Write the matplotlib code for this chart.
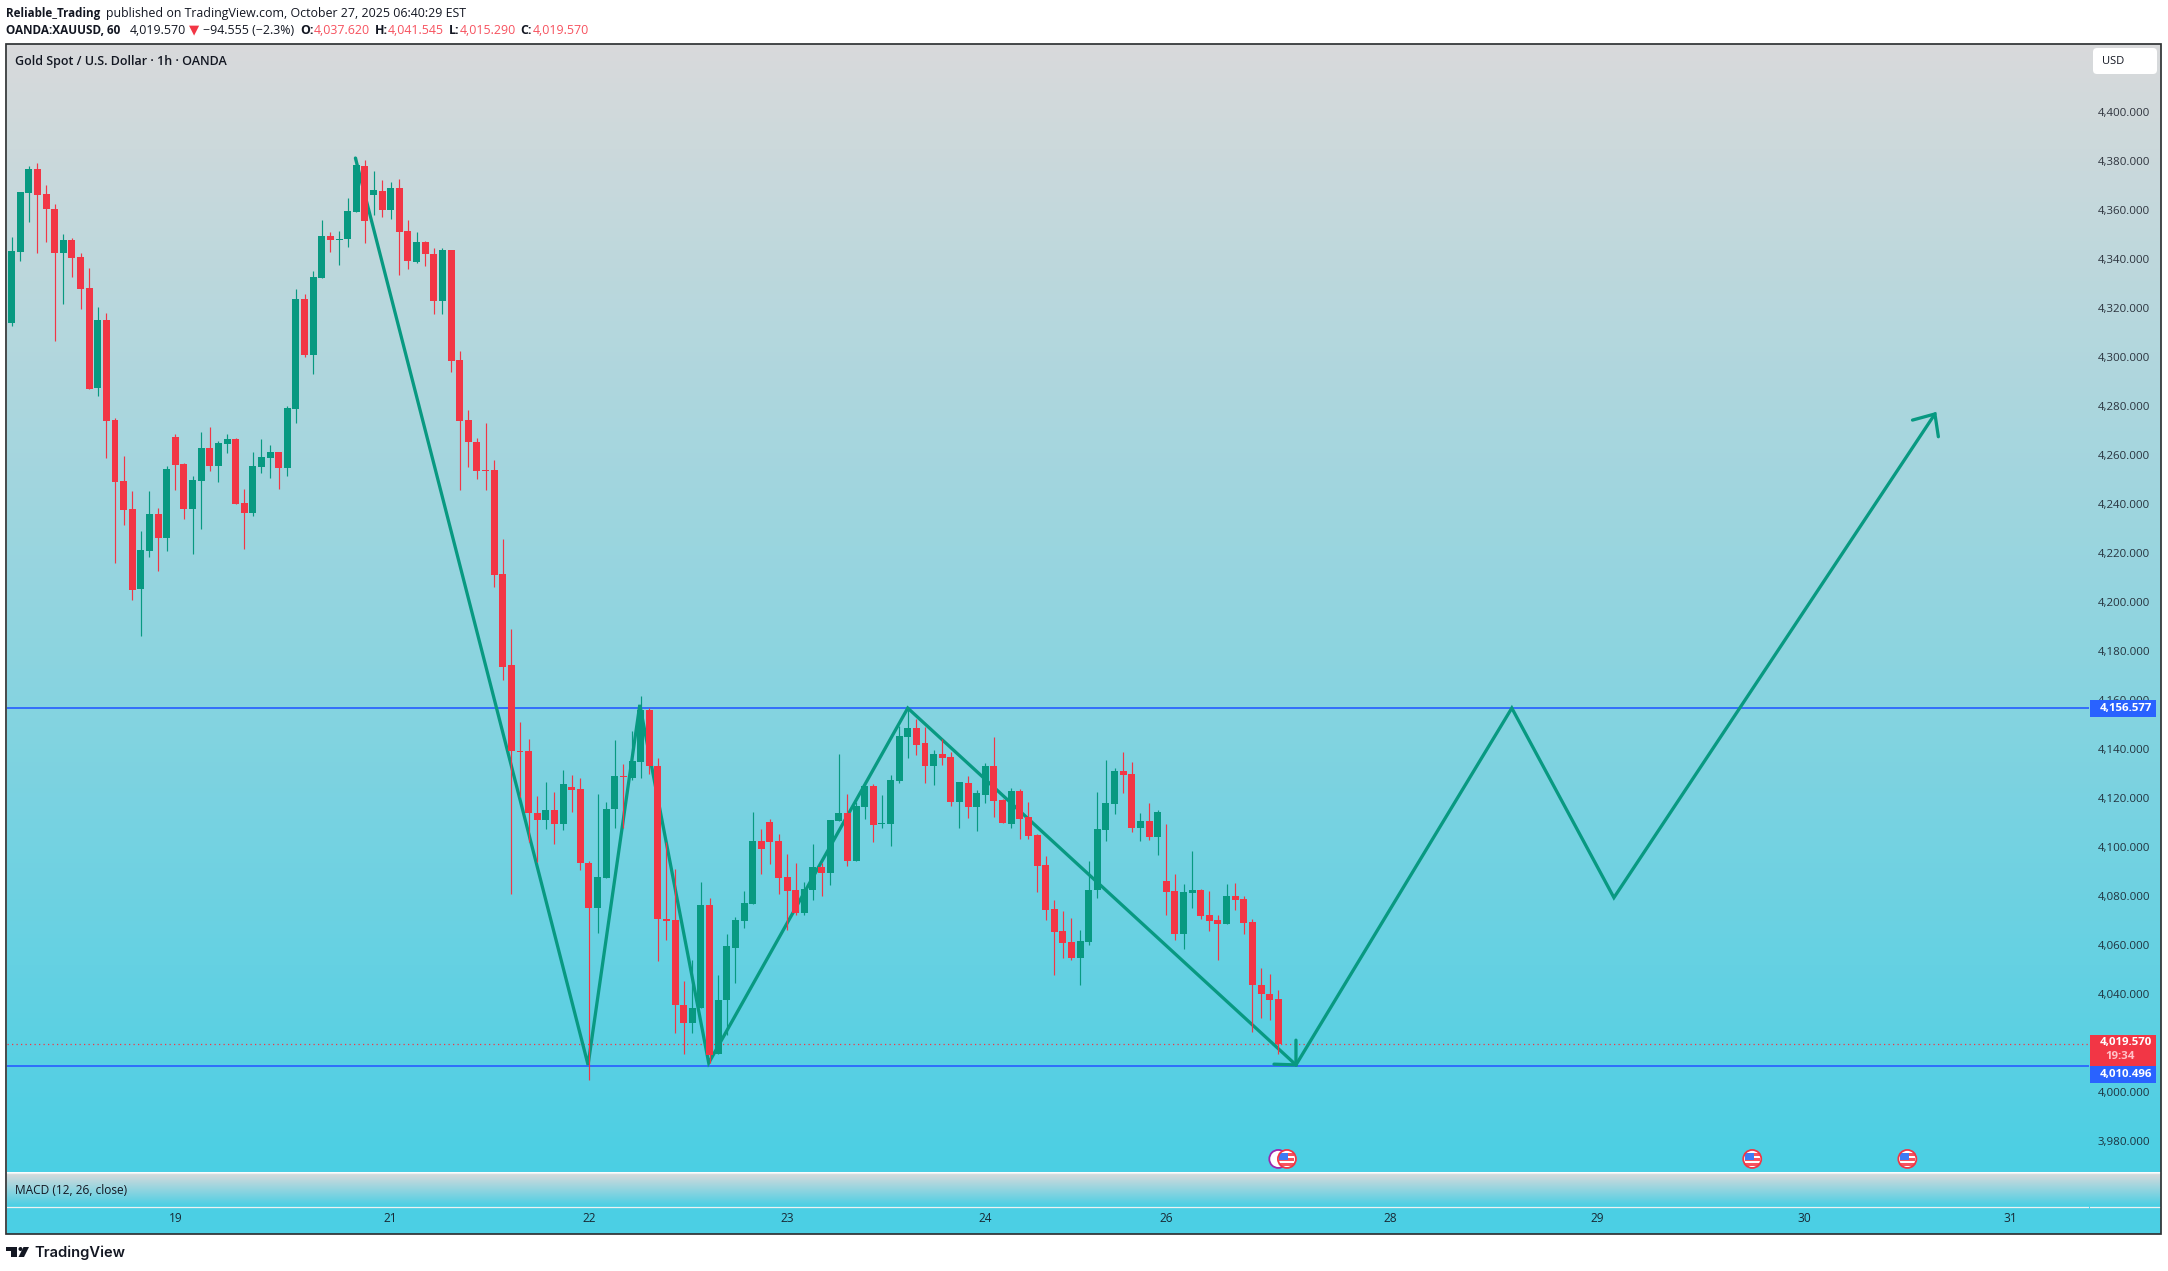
import numpy as np
import matplotlib
matplotlib.use("Agg")
import matplotlib.pyplot as plt
from matplotlib.patches import Rectangle, Ellipse, Polygon, FancyBboxPatch

# ---------- data ----------
opens = [4313.8,4342.8,4366.9,4376.7,4366.5,4360.4,4342.4,4347.7,4340.8,4328.1,4287.3,4315.0,4274.2,4249.3,4237.9,4205.2,4220.7,4235.8,4226.0,4267.3,
4256.2,4237.9,4249.3,4262.8,4255.4,4264.4,4266.5,4240.3,4236.2,4255.0,4258.7,4261.1,4254.6,4278.7,4323.6,4300.7,4332.2,4349.3,4347.7,4348.1,
4359.1,4377.9,4366.1,4367.7,4360.0,4368.9,4351.4,4338.7,4346.9,4342.0,4322.8,4343.6,4298.7,4274.2,4265.2,4253.8,4253.8,4211.3,4174.2,4139.1,
4139.1,4113.7,4110.9,4115.0,4109.3,4124.4,4123.5,4093.3,4074.9,4087.2,4115.4,4128.9,4128.0,4134.6,4155.8,4132.9,4070.5,4070.1,4035.4,4028.0,
4034.1,4076.2,4015.4,4037.4,4058.6,4069.7,4076.6,4102.3,4110.1,4102.3,4087.6,4082.3,4072.9,4082.3,4091.7,4089.2,4110.5,4113.7,4094.2,4116.2,
4124.8,4109.3,4109.3,4126.8,4144.8,4148.5,4142.3,4132.9,4137.8,4136.6,4118.2,4126.0,4116.2,4121.1,4132.9,4119.1,4109.3,4122.7,4112.1,4104.8,
4092.5,4074.6,4065.6,4061.1,4054.5,4061.1,4082.3,4106.8,4117.4,4130.9,4129.7,4107.6,4110.5,4104.0,4086.0,4081.9,4064.4,4081.1,4082.3,4072.1,
4070.1,4068.4,4079.9,4078.6,4069.2,4043.5,4039.9,4037.62]
highs = [4348.9,4367.3,4377.9,4379.1,4370.2,4362.4,4350.2,4348.5,4342.4,4336.3,4320.4,4317.9,4275.0,4259.5,4245.2,4228.9,4245.2,4238.3,4255.4,4268.5,
4256.6,4251.4,4269.3,4271.4,4265.6,4268.5,4266.9,4246.0,4261.1,4266.5,4264.0,4261.1,4279.9,4327.7,4325.7,4335.0,4355.9,4351.0,4351.4,4364.9,
4381.6,4380.4,4375.9,4372.2,4371.4,4372.6,4355.9,4351.0,4347.3,4344.4,4344.4,4343.6,4302.4,4278.3,4266.9,4273.0,4257.9,4225.6,4188.9,4150.9,
4144.0,4120.7,4126.4,4122.3,4131.3,4129.3,4128.0,4094.1,4121.5,4118.2,4143.6,4133.8,4147.2,4161.5,4156.6,4136.2,4101.9,4090.9,4045.2,4053.7,
4085.6,4079.0,4047.6,4064.4,4071.3,4081.9,4114.2,4107.2,4111.3,4105.2,4097.0,4093.3,4085.6,4101.1,4093.3,4110.9,4137.8,4121.5,4118.2,4126.4,
4125.6,4121.1,4129.3,4149.3,4155.8,4152.1,4148.9,4139.5,4144.0,4138.7,4126.4,4128.9,4123.1,4134.2,4144.8,4119.5,4124.0,4123.5,4118.2,4105.2,
4096.2,4078.2,4073.7,4070.9,4066.0,4094.2,4122.3,4135.4,4132.1,4138.7,4134.6,4113.7,4117.8,4115.0,4109.3,4088.9,4084.8,4098.2,4082.7,4081.9,
4072.1,4084.8,4085.2,4079.9,4070.5,4050.5,4048.0,4041.545]
lows = [4312.6,4339.1,4355.1,4342.4,4346.9,4306.5,4321.6,4332.6,4319.5,4286.9,4284.0,4258.7,4215.8,4231.3,4200.7,4186.0,4218.3,4212.6,4220.7,4245.6,
4233.8,4219.5,4229.7,4253.4,4248.9,4260.7,4239.9,4221.5,4235.0,4252.6,4250.5,4246.0,4251.4,4273.0,4299.9,4293.0,4332.2,4342.8,4337.5,4344.8,
4359.1,4346.5,4357.9,4357.1,4356.3,4333.4,4335.9,4338.3,4337.1,4317.5,4317.5,4293.8,4245.6,4255.0,4250.1,4245.6,4206.0,4168.1,4080.7,4120.3,
4101.9,4093.7,4107.2,4101.1,4106.8,4114.2,4090.5,4004.7,4064.6,4087.2,4107.6,4107.6,4127.2,4128.0,4129.7,4053.3,4061.9,4023.9,4015.4,4023.9,
4034.1,4011.7,4015.4,4023.1,4044.3,4066.8,4076.6,4088.9,4092.9,4080.7,4066.0,4072.1,4072.1,4078.2,4079.9,4084.4,4110.5,4092.1,4094.2,4111.3,
4101.9,4107.6,4100.3,4126.0,4136.2,4137.4,4126.0,4125.2,4133.3,4116.6,4107.6,4111.7,4106.4,4117.8,4112.1,4109.7,4107.6,4103.1,4103.1,4081.5,
4070.1,4047.6,4054.5,4053.7,4043.5,4059.9,4079.0,4102.3,4113.4,4121.9,4106.0,4102.3,4102.7,4096.6,4072.1,4061.9,4058.2,4074.9,4070.5,4065.6,
4053.7,4068.4,4074.1,4064.4,4024.3,4030.0,4029.2,4015.29]
closes = [4343.2,4367.3,4376.7,4366.1,4360.4,4342.4,4347.7,4340.4,4327.7,4286.9,4315.0,4273.8,4248.9,4237.5,4204.8,4221.1,4235.8,4226.0,4254.2,4255.8,
4237.9,4249.7,4262.8,4255.4,4264.8,4266.5,4239.9,4236.2,4255.4,4259.1,4261.1,4254.6,4279.1,4323.6,4300.7,4332.6,4349.3,4347.7,4348.1,4359.5,
4378.3,4355.5,4368.1,4360.0,4368.9,4351.0,4339.1,4346.9,4342.0,4322.8,4343.6,4298.3,4273.8,4265.2,4253.4,4253.4,4210.9,4173.4,4139.1,4138.7,
4113.7,4110.9,4115.0,4109.3,4125.6,4123.1,4093.3,4074.9,4087.6,4115.4,4128.9,4128.5,4135.0,4155.8,4132.9,4070.5,4069.7,4035.4,4028.0,4034.1,
4076.2,4014.9,4037.4,4059.4,4070.1,4077.0,4102.3,4099.1,4101.9,4087.2,4081.9,4072.9,4082.7,4091.7,4089.2,4110.9,4113.7,4094.2,4116.6,4124.8,
4108.9,4109.7,4127.2,4145.2,4148.5,4141.5,4132.9,4137.8,4136.2,4118.2,4126.4,4116.2,4121.9,4132.9,4118.6,4109.7,4122.7,4111.3,4104.4,4092.1,
4074.1,4065.2,4060.7,4054.5,4061.5,4082.3,4107.2,4117.8,4130.9,4129.3,4107.6,4110.5,4104.0,4114.2,4081.5,4064.4,4081.5,4082.3,4071.7,4069.7,
4068.4,4079.9,4078.2,4068.8,4043.5,4039.9,4037.4,4019.57]

pattern_bar = [39.9, 66.9, 72.9, 80.9, 104.0, 149.05]
pattern_price = [4381.2, 4010.9, 4157.9, 4011.7, 4156.6, 4010.9]
projection_bar = [149.05, 174.1, 185.95, 223.2]
projection_price = [4010.9, 4156.6, 4079.2, 4276.7]
head1_bar = [146.5, 149.05, 149.05]
head1_price = [4011.2, 4010.9, 4021.0]
head2_bar = [220.6, 223.2, 223.6]
head2_price = [4274.2, 4276.7, 4267.4]

resistance = 4156.577
support = 4010.496
last_price = 4019.570

price_ticks = list(range(3980, 4401, 20))
day_bars = [19, 44, 67, 90, 113, 134, 160, 184, 208, 232]
day_labels = ['19', '21', '22', '23', '24', '26', '28', '29', '30', '31']
flag_bars = [148, 202, 220]
clock_bars = [147]
event_price = 3972.5

# ---------- style ----------
W, H = 2168, 1271
FONT = ['Open Sans', 'DejaVu Sans']
plt.rcParams['font.family'] = FONT
TEXT = '#131722'
GREEN, RED, BLUE = '#089981', '#f23645', '#2962ff'
BAR_STEP, BAR0 = 8.617, 11.6
PX_PER_USD = 2.449


def fx(x):
    return x / W


def fy(y):
    return 1 - y / H


def price_at(y):
    return 4400 - (y - 112) / PX_PER_USD


fig = plt.figure(figsize=(W / 100, H / 100), dpi=100, facecolor='white')
L, R, T, B1, T2, B2, B3 = 7, 2161, 43.5, 1172, 1173, 1206, 1234


def pane(top, bottom):
    return fig.add_axes([fx(L), fy(bottom), fx(R - L), (bottom - top) / H])


ax = pane(T, B1)
ax_m = pane(T2, B2)
ax_t = pane(B2, B3)

top_c = np.array([217, 218, 219]) / 255
bot_c = np.array([75, 207, 228]) / 255
g = np.linspace(0, 1, 256)[:, None, None]
grad = top_c[None, None, :] * (1 - g) + bot_c[None, None, :] * g
ax.imshow(grad, aspect='auto', extent=[0, 1, 0, 1], transform=ax.transAxes, zorder=0)
ax_m.imshow(grad, aspect='auto', extent=[0, 1, 0, 1], transform=ax_m.transAxes, zorder=0)
ax_t.set_facecolor('#4bcfe4')

xlim = ((L - BAR0) / BAR_STEP, (R - BAR0) / BAR_STEP)
for a in (ax, ax_m, ax_t):
    a.set_xlim(*xlim)
    for s in a.spines.values():
        s.set_visible(False)
ax.set_ylim(price_at(B1), price_at(T))
ax_m.set_xticks([]); ax_m.set_yticks([])
ax_t.set_yticks([])

# drawings (below the candles)
SCALE_FRAC = (2089 - L) / (R - L)
ytr = ax.get_yaxis_transform()
for level in (resistance, support):
    ax.plot([0, SCALE_FRAC], [level, level], color=BLUE, lw=1.25, transform=ytr, zorder=2,
            solid_capstyle='butt')
ax.plot([0, SCALE_FRAC], [last_price, last_price], color=RED, lw=0.9, ls=(0, (1, 2.6)),
        transform=ytr, zorder=2)
for xs, ys in ((pattern_bar, pattern_price), (projection_bar, projection_price),
               (head1_bar, head1_price), (head2_bar, head2_price)):
    ax.plot(xs, ys, color=GREEN, lw=2.35, zorder=3, solid_joinstyle='miter', solid_capstyle='round')

# candles
o, h, l, c = map(np.array, (opens, highs, lows, closes))
idx = np.arange(len(o))
cols = np.where(c >= o, GREEN, RED)
ax.vlines(idx, l, h, colors=cols, lw=0.85, zorder=4)
ax.bar(idx, np.maximum(np.abs(c - o), 0.5), bottom=np.minimum(o, c), width=0.81,
       color=cols, linewidth=0, zorder=5)

# price axis
ax.yaxis.tick_right()
ax.set_yticks(price_ticks)
ax.set_yticklabels([f'{v:,.3f}' for v in price_ticks], fontsize=8.25, color=TEXT, alpha=0.85)
ax.tick_params(axis='y', length=0, pad=-45.4)
ax.set_xticks([])

# time axis
ax_t.set_xticks(day_bars)
ax_t.set_xticklabels(day_labels, fontsize=8.6, color=TEXT, alpha=0.9)
ax_t.tick_params(axis='x', length=0, pad=-15.5)

# pane separators
for y in (B1 + 0.5, B2 + 0.5):
    fig.add_artist(plt.Line2D([fx(L), fx(R)], [fy(y), fy(y)], color='#eef1f2', lw=0.9, zorder=6))
fig.add_artist(plt.Line2D([fx(2089), fx(2089)], [fy(1205), fy(1208)], color='#4bcfe4', lw=0.7, zorder=7))
fig.add_artist(Rectangle((fx(L - 1), fy(B3)), fx(R - L + 1), (B3 - T) / H, fill=False,
                         edgecolor='#2f3234', lw=1.25, transform=fig.transFigure, zorder=8))

# last-price boxes
x0, x1 = (2090 - L) / (R - L), (2156 - L) / (R - L)
tx = (2152 - L) / (R - L)
for top, bottom, col in ((resistance + 3.5, resistance - 3.5, BLUE),
                         (price_at(1035), price_at(1066), RED),
                         (price_at(1066), price_at(1083), BLUE)):
    ax.add_patch(Rectangle((x0, bottom), x1 - x0, top - bottom, transform=ytr, color=col, lw=0,
                           zorder=9, clip_on=False))
LBL = dict(transform=ytr, ha='right', va='center', fontsize=8.25, zorder=10)
ax.text(tx, resistance, f'{resistance:,.3f}', color='white', fontweight='bold', **LBL)
ax.text(tx, price_at(1043), f'{last_price:,.3f}', color='white', fontweight='bold', **LBL)
ax.text((2135 - L) / (R - L), price_at(1057), '19:34', color='#ffc2c8', fontweight='bold', **LBL)
ax.text(tx, price_at(1074), f'{support:,.3f}', color='white', fontweight='bold', **LBL)

# USD box
fig.add_artist(FancyBboxPatch((2095, H - 72), 60, 22, boxstyle='round,pad=2,rounding_size=4',
                              transform=None, facecolor='white', edgecolor='none', zorder=9))
fig.text(fx(2102), fy(61), 'USD', fontsize=8.0, color=TEXT, va='center', zorder=10)

# events
EW, EH = 18 / BAR_STEP, 18 / PX_PER_USD


def flag(b):
    e = Ellipse((b, event_price), EW, EH, facecolor='white', edgecolor='none', zorder=7)
    ax.add_patch(e)
    for px0, py0, pw, ph, col in ((-7.5, -1, 15, 3, '#f7525f'), (-7.5, -5.5, 9, 4.5, '#2962ff'),
                                  (1.5, -5.5, 6, 2.5, '#f7525f'), (-7.5, 4, 15, 3, '#f7525f'),
                                  (-7.5, -5.5, 9, 7, '#3d7bf5')):
        rect = Rectangle((b + px0 / BAR_STEP, event_price - (py0 + ph) / PX_PER_USD),
                         pw / BAR_STEP, ph / PX_PER_USD, color=col, lw=0, zorder=7.5)
        ax.add_patch(rect)
        rect.set_clip_path(e)
    ax.add_patch(Ellipse((b, event_price), EW, EH, fill=False, edgecolor='#f23645', lw=1.3, zorder=8))


for b in clock_bars:
    ax.add_patch(Ellipse((b, event_price), EW, EH, facecolor='white', edgecolor='#9c27b0', lw=1.3, zorder=6.5))
for b in flag_bars:
    flag(b)

# titles
fig.text(fx(15), fy(61.5), 'Gold Spot / U.S. Dollar · 1h · OANDA', fontsize=9.0, color=TEXT,
         va='center', fontweight='semibold', zorder=10)
fig.text(fx(15), fy(1190), 'MACD (12, 26, close)', fontsize=8.6, color=TEXT, va='center', zorder=10)

HEAD = [
    (6, 13, 'Reliable_Trading', TEXT, 'bold', 8.35),
    (106, 13, 'published on TradingView.com, October 27, 2025 06:40:29 EST', TEXT, 'normal', 8.9),
    (6, 30, 'OANDA:XAUUSD, 60', TEXT, 'bold', 8.5),
    (130, 30, '4,019.570', TEXT, 'normal', 8.9),
    (189, 30, '▼', RED, 'normal', 9.5),
    (203, 30, '−94.555 (−2.3%)', TEXT, 'normal', 8.9),
    (300, 30, 'O:', TEXT, 'bold', 8.9),
    (314, 30, '4,037.620', '#f7525f', 'normal', 8.9),
    (375, 30, 'H:', TEXT, 'bold', 8.9),
    (388, 30, '4,041.545', '#f7525f', 'normal', 8.9),
    (449, 30, 'L:', TEXT, 'bold', 8.9),
    (460, 30, '4,015.290', '#f7525f', 'normal', 8.9),
    (520, 30, 'C:', TEXT, 'bold', 8.9),
    (533, 30, '4,019.570', '#f7525f', 'normal', 8.9),
]
for x, y, s, col, w, fs in HEAD:
    fig.text(fx(x), fy(y), s, fontsize=fs, color=col, fontweight=w, va='center')

# logo
LOGO = '#131722'
fig.add_artist(Polygon([(fx(6), fy(1247)), (fx(17), fy(1247)), (fx(17), fy(1257)), (fx(11), fy(1257)),
                        (fx(11), fy(1251)), (fx(6), fy(1251))], closed=True, color=LOGO, lw=0,
                       transform=fig.transFigure))
fig.add_artist(Polygon([(fx(23.5), fy(1247)), (fx(29), fy(1247)), (fx(24), fy(1257)), (fx(18.5), fy(1257))],
                       closed=True, color=LOGO, lw=0, transform=fig.transFigure))
fig.add_artist(Ellipse((fx(20.5), fy(1249)), 4 / W, 4 / H, color=LOGO, lw=0, transform=fig.transFigure))
fig.text(fx(34), fy(1252.5), 'TradingView', family=['Inter', 'DejaVu Sans'], fontsize=10.6, color=LOGO,
         fontweight='semibold', va='center')

fig.savefig('out.png', dpi=100, facecolor='white')
